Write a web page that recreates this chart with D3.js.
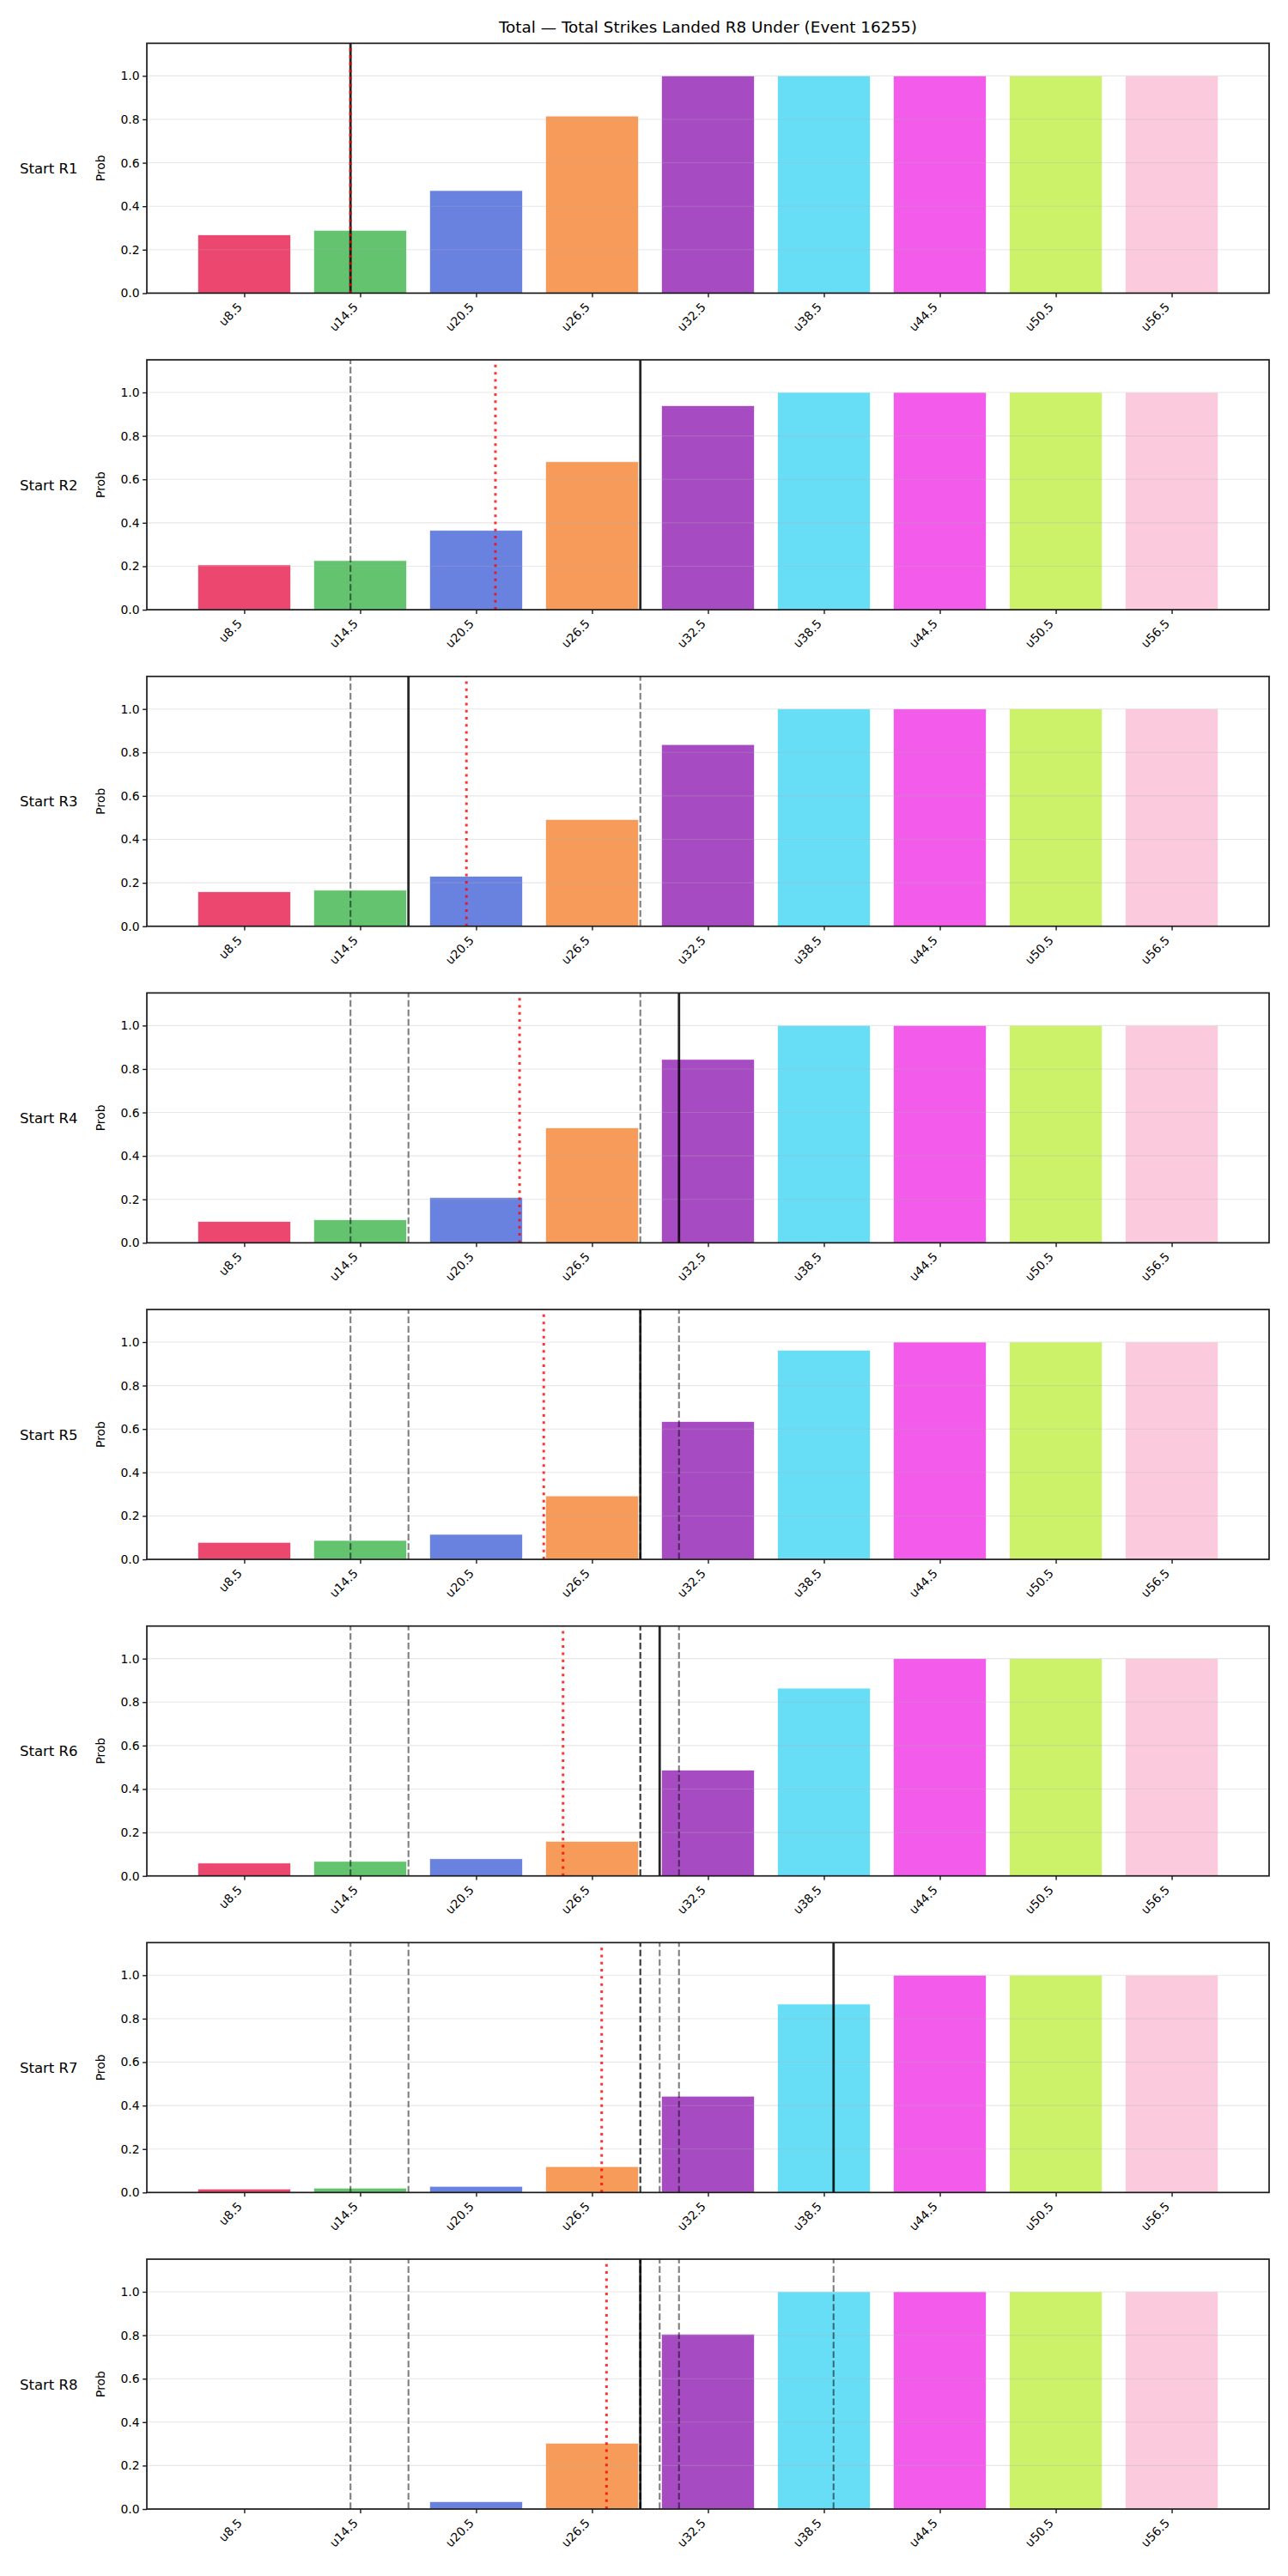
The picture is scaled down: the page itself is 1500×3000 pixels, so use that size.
<!DOCTYPE html>
<html>
<head>
<meta charset="utf-8">
<script src="https://cdn.jsdelivr.net/npm/d3@7"></script>
<style>
  body { margin: 0; background: #fff; }
  svg text { font-family: "DejaVu Sans", sans-serif; fill: #000; }
</style>
</head>
<body>
<svg id="chart" width="1500" height="3000"></svg>
<script>
// strike lines (x categories)
const lineLabels = ["u8.5", "u14.5", "u20.5", "u26.5", "u32.5", "u38.5", "u44.5", "u50.5", "u56.5"];
const lineValues = [8.5, 14.5, 20.5, 26.5, 32.5, 38.5, 44.5, 50.5, 56.5];
const barColors = ["#e6194B", "#3cb44b", "#4363d8", "#f58231", "#911eb4", "#42d4f4", "#f032e6", "#bfef45", "#fabed4"];

const roundLabels = ["Start R1", "Start R2", "Start R3", "Start R4", "Start R5", "Start R6", "Start R7", "Start R8"];
// solid line per round, earlier ones come back dashed
const actualTotals = [14, 29, 17, 31, 29, 30, 39, 29];
// red dotted line per round
const runningMeans = [14, 21.5, 20, 22.75, 24, 25, 27, 27.25];

// under probabilities, one array per starting round
const probR1 = [0.268, 0.289, 0.472, 0.815, 1.0, 1.0, 1.0, 1.0, 1.0];
const probR2 = [0.206, 0.226, 0.365, 0.681, 0.939, 1.0, 1.0, 1.0, 1.0];
const probR3 = [0.159, 0.166, 0.230, 0.491, 0.836, 1.0, 1.0, 1.0, 1.0];
const probR4 = [0.098, 0.106, 0.208, 0.529, 0.844, 1.0, 1.0, 1.0, 1.0];
const probR5 = [0.078, 0.087, 0.115, 0.292, 0.634, 0.962, 1.0, 1.0, 1.0];
const probR6 = [0.059, 0.067, 0.079, 0.159, 0.487, 0.864, 1.0, 1.0, 1.0];
const probR7 = [0.016, 0.020, 0.028, 0.119, 0.443, 0.867, 1.0, 1.0, 1.0];
const probR8 = [0.001, 0.004, 0.034, 0.303, 0.805, 1.0, 1.0, 1.0, 1.0];
const probs = [probR1, probR2, probR3, probR4, probR5, probR6, probR7, probR8];

const yTicks = [0, 0.2, 0.4, 0.6, 0.8, 1.0];

const svg = d3.select("#chart");
const left = 171, right = 1478;
const firstTop = 50.4, pitch = 368.66, panelH = 291;

let x = d3.scaleLinear().domain([-0.84, 8.84]).range([left, right]);
let strikeToIdx = d3.scaleLinear().domain([8.5, 56.5]).range([0, 8]);

svg.append("text")
    .attr("x", (left + right) / 2)
    .attr("y", 37.7)
    .attr("text-anchor", "middle")
    .style("font-size", "18.4px")
    .text("Total \u2014 Total Strikes Landed R8 Under (Event 16255)");

roundLabels.forEach((label, r) => {
    const top = firstTop + r * pitch;
    const bottom = top + panelH;
    let y = d3.scaleLinear().domain([0, 1.15]).range([bottom, top]);
    const g = svg.append("g");

    // bars
    g.selectAll("rect.bar")
        .data(probs[r])
        .join("rect")
        .attr("class", "bar")
        .attr("x", (d, i) => x(i - 0.4))
        .attr("width", x(0.8) - x(0))
        .attr("y", d => y(d))
        .attr("height", d => y(0) - y(d))
        .attr("fill", (d, i) => barColors[i])
        .attr("fill-opacity", 0.8)
        .attr("stroke", "#fff")
        .attr("stroke-opacity", 0.8)
        .attr("stroke-width", 0.8);

    // horizontal grid
    g.selectAll("line.grid")
        .data(yTicks)
        .join("line")
        .attr("x1", left).attr("x2", right)
        .attr("y1", d => y(d)).attr("y2", d => y(d))
        .attr("stroke", "#b0b0b0")
        .attr("stroke-opacity", 0.3)
        .attr("stroke-width", 1.1);

    // earlier rounds dashed
    g.selectAll("line.prev")
        .data(actualTotals.slice(0, r))
        .join("line")
        .attr("x1", d => x(strikeToIdx(d))).attr("x2", d => x(strikeToIdx(d)))
        .attr("y1", bottom).attr("y2", top)
        .attr("stroke", "#000")
        .attr("stroke-opacity", 0.5)
        .attr("stroke-width", 2.1)
        .attr("stroke-dasharray", "7.7,3.3");

    // this round
    g.append("line")
        .attr("x1", x(strikeToIdx(actualTotals[r]))).attr("x2", x(strikeToIdx(actualTotals[r])))
        .attr("y1", bottom).attr("y2", top)
        .attr("stroke", "#000")
        .attr("stroke-opacity", 0.85)
        .attr("stroke-width", 2.8);

    g.append("line")
        .attr("x1", x(strikeToIdx(runningMeans[r]))).attr("x2", x(strikeToIdx(runningMeans[r])))
        .attr("y1", bottom).attr("y2", top)
        .attr("stroke", "#ff0000")
        .attr("stroke-opacity", 0.8)
        .attr("stroke-width", 3)
        .attr("stroke-dasharray", "3,5.3");

    // frame
    g.append("rect")
        .attr("x", left).attr("y", top)
        .attr("width", right - left).attr("height", panelH)
        .attr("fill", "none")
        .attr("stroke", "#1a1a1a")
        .attr("stroke-width", 1.7);

    // y axis
    const yAxis = g.append("g")
        .attr("transform", `translate(${left},0)`)
        .call(d3.axisLeft(y).tickValues(yTicks).tickFormat(d3.format(".1f")).tickSize(4.9).tickPadding(3.5));
    yAxis.select(".domain").remove();
    yAxis.selectAll(".tick line").attr("stroke", "#1a1a1a").attr("stroke-width", 1.4);
    yAxis.selectAll(".tick text")
        .attr("fill", "#000")
        .style("font-family", "DejaVu Sans, sans-serif")
        .style("font-size", "13.9px");

    // x axis
    const xAxis = g.append("g")
        .attr("transform", `translate(0,${bottom})`)
        .call(d3.axisBottom(x).tickValues(d3.range(lineLabels.length)).tickFormat(i => lineLabels[i]).tickSize(4.9));
    xAxis.select(".domain").remove();
    xAxis.selectAll(".tick line").attr("stroke", "#1a1a1a").attr("stroke-width", 1.4);
    xAxis.selectAll(".tick text")
        .attr("fill", "#000")
        .attr("y", null).attr("dy", null)
        .attr("text-anchor", "end")
        .attr("transform", "translate(-2.2,17.2) rotate(-45)")
        .style("font-family", "DejaVu Sans, sans-serif")
        .style("font-size", "13.9px");

    // y label
    g.append("text")
        .attr("transform", `translate(122,${(top + bottom) / 2}) rotate(-90)`)
        .attr("text-anchor", "middle")
        .style("font-size", "13.9px")
        .text("Prob");

    g.append("text")
        .attr("x", 23)
        .attr("y", (top + bottom) / 2 + 6)
        .style("font-size", "16.5px")
        .text(label);
});
</script>
</body>
</html>
